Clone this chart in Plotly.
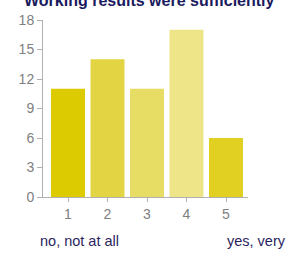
import plotly.graph_objects as go

categories = [1, 2, 3, 4, 5]
counts = [11, 14, 11, 17, 6]
bar_colors = ["#dccb00", "#e3d444", "#e7dc64", "#ede588", "#e1d022"]
y_ticks = [0, 3, 6, 9, 12, 15, 18]
title_text = "Working results were sufficiently"
low_label = "no, not at all"
high_label = "yes, very"

W, H = 291, 256
L, R, T, B = 43, 43, 14, 59
plot_h = H - T - B

def py(pix):
    return (H - B - pix) / plot_h

def px(pix):
    return (pix - L) / (W - L - R)

fig = go.Figure(go.Bar(
    x=categories, y=counts, marker=dict(color=bar_colors, line=dict(width=0)),
    width=0.86, hoverinfo="skip",
))

fig.update_layout(
    width=W, height=H, margin=dict(l=L, r=R, t=T, b=B),
    paper_bgcolor="white", plot_bgcolor="white", showlegend=False,
    font=dict(family="Arial, Liberation Sans, sans-serif"),
    xaxis=dict(range=[0.367, 5.557], tickvals=categories, ticktext=[str(c) for c in categories],
               showgrid=False, zeroline=False, showline=True, linecolor="#b0b0b0", linewidth=1,
               ticks="outside", ticklen=4, tickcolor="#b0b0b0",
               tickfont=dict(size=14, color="#808080")),
    yaxis=dict(range=[0, 18], tickvals=y_ticks, showgrid=False, zeroline=False,
               showline=True, linecolor="#b0b0b0", linewidth=1,
               ticks="outside", ticklen=5, tickcolor="#b0b0b0",
               tickfont=dict(size=14, color="#808080")),
    annotations=[
        dict(text="<b>" + title_text + "</b>", xref="paper", yref="paper",
             x=px(22), y=py(-6), xanchor="left", yanchor="middle", showarrow=False,
             font=dict(size=16, color="#1a1a5e")),
        dict(text=low_label, xref="paper", yref="paper", x=px(38), y=py(242),
             xanchor="left", yanchor="middle", showarrow=False,
             font=dict(size=14.5, color="#2a1f5e")),
        dict(text=high_label, xref="paper", yref="paper", x=px(225), y=py(242),
             xanchor="left", yanchor="middle", showarrow=False,
             font=dict(size=14.5, color="#2a1f5e")),
    ],
)

fig.write_html("out.html", config={"displayModeBar": False},
               post_script="document.body.style.margin='0';document.body.style.overflow='hidden';")
